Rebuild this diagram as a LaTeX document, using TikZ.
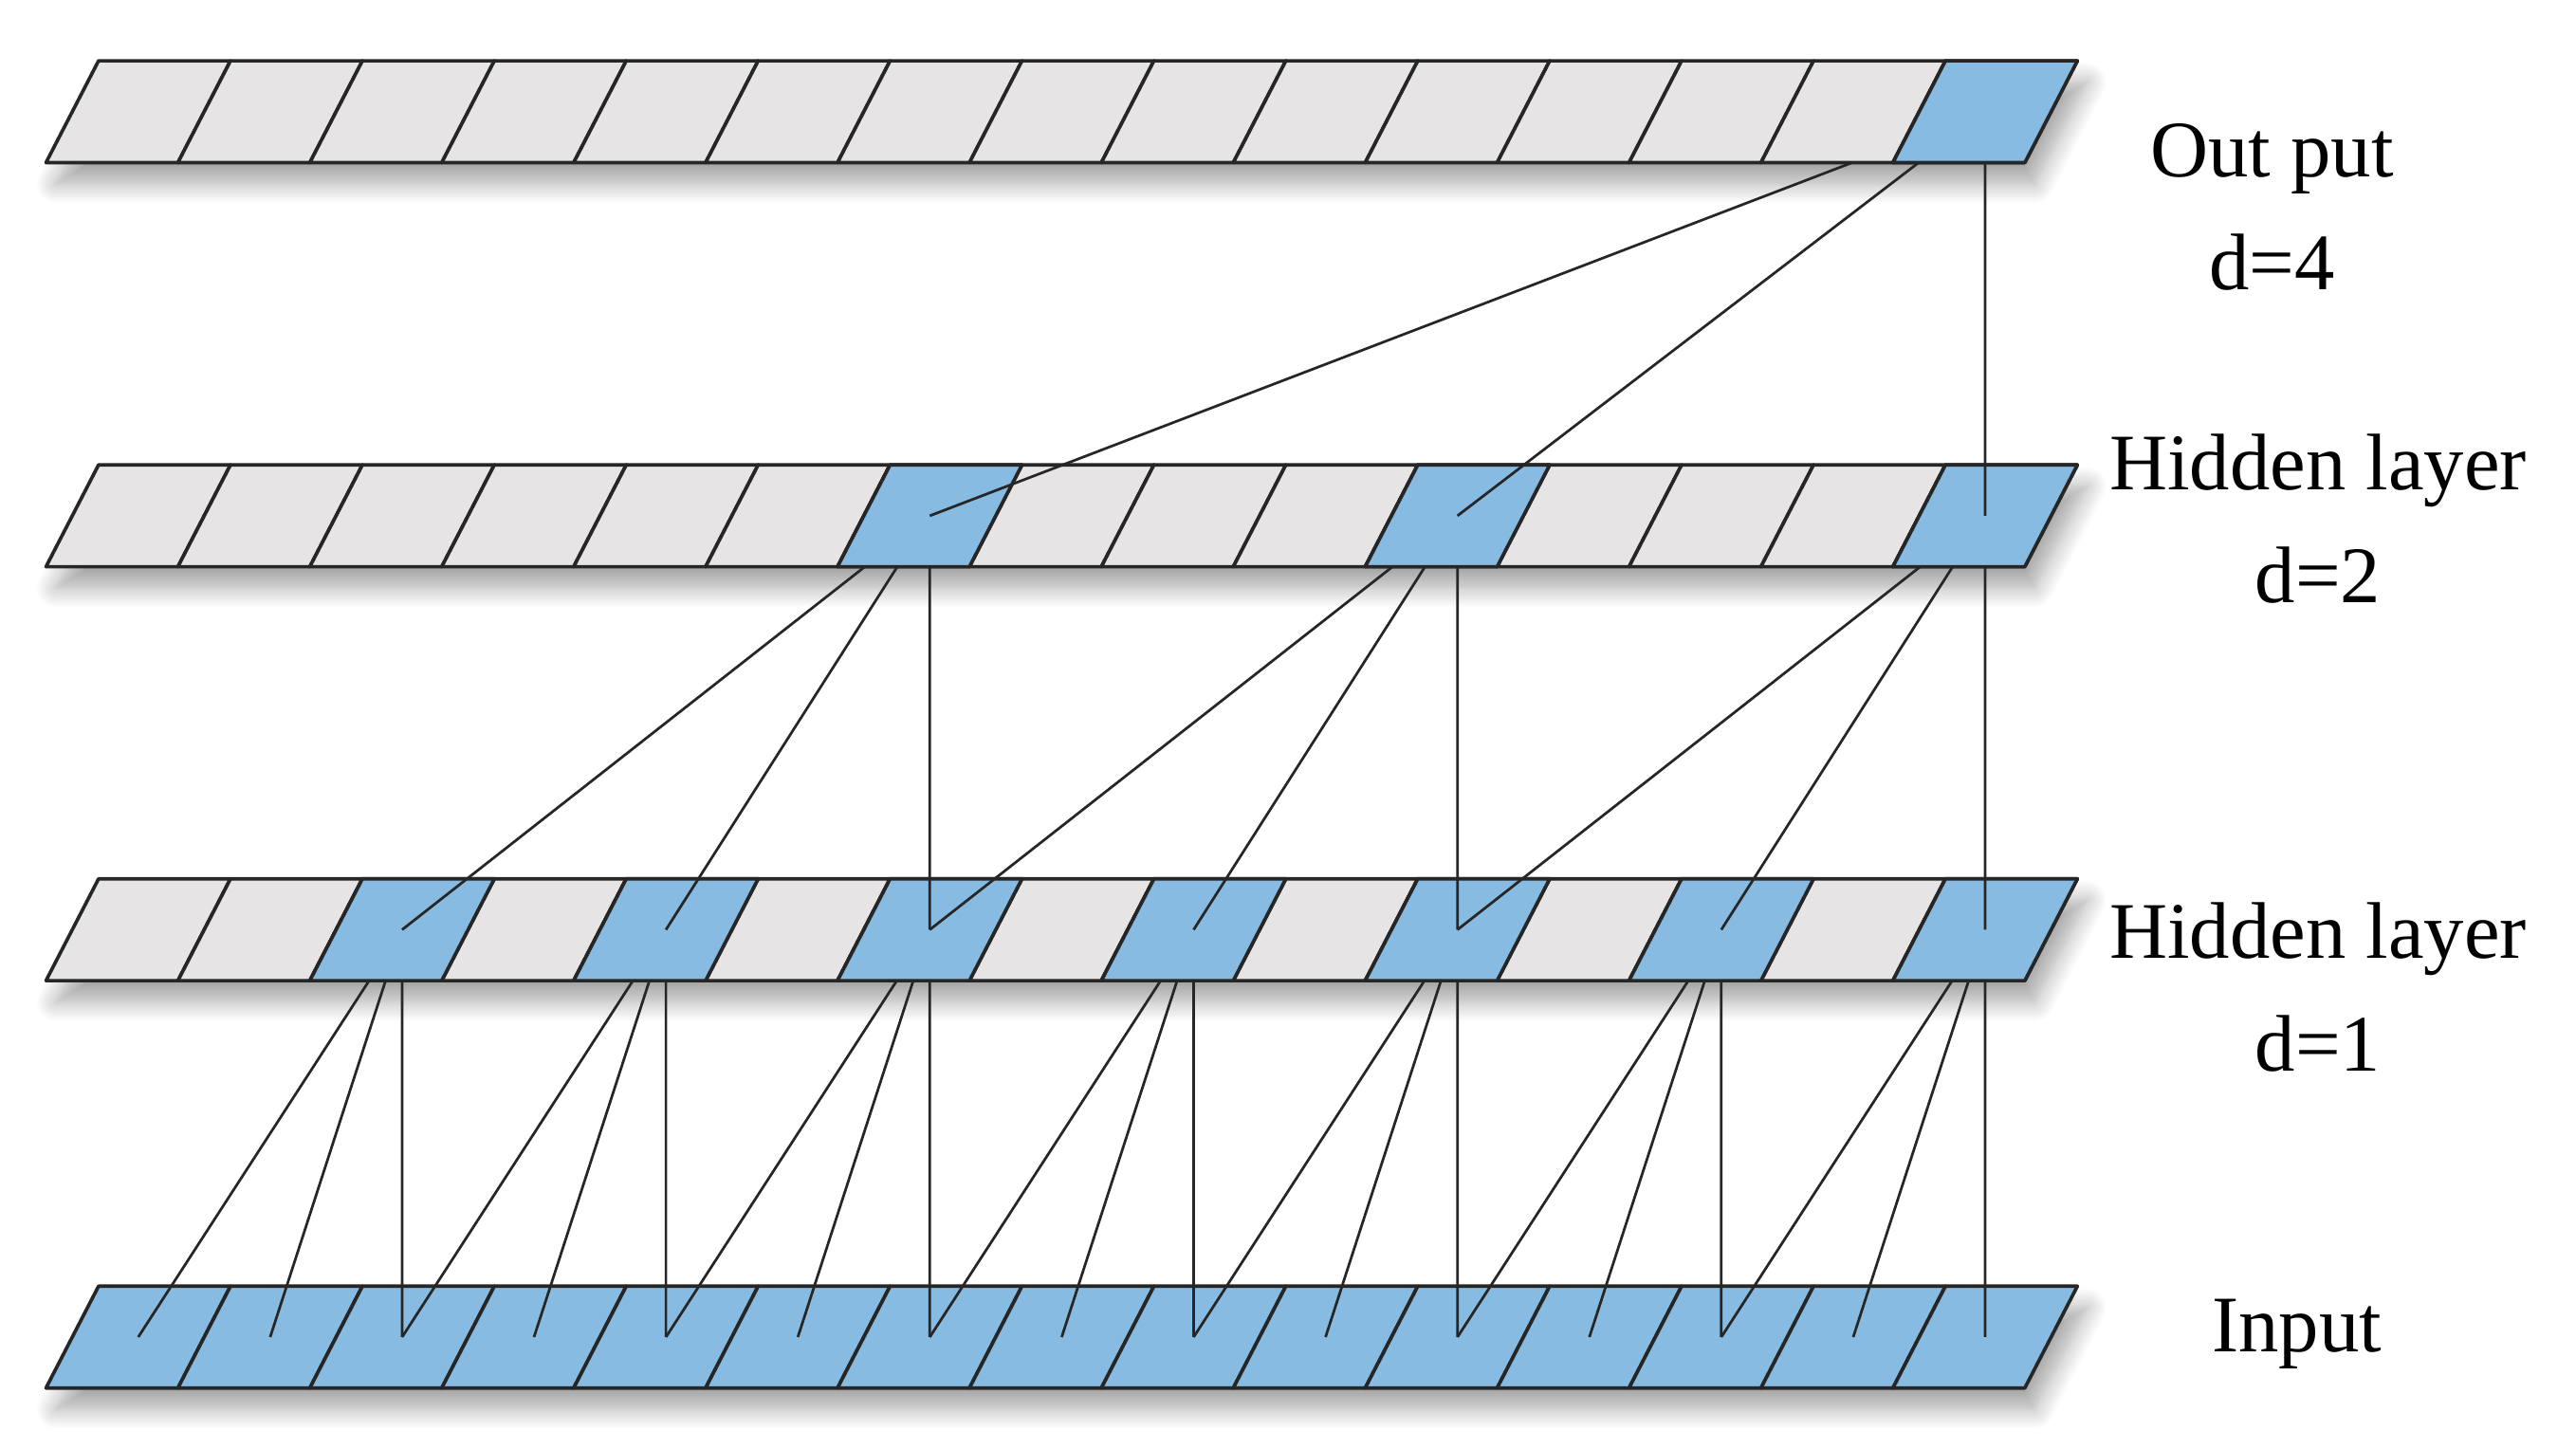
\documentclass[tikz,border=0pt]{standalone}
\usepackage{fontspec}
\setmainfont{Liberation Serif}
\usetikzlibrary{shadows.blur}
\definecolor{cellblue}{HTML}{88BBE1}
\definecolor{cellgray}{HTML}{E7E4E5}
\definecolor{edgegray}{HTML}{262626}

% one parallelogram cell: #1 = index, #2 = top y
\newcommand{\cellpath}[2]{({28+80.3*#1},#2+62) -- ({28+80.3*(#1+1)},#2+62) -- ({60+80.3*(#1+1)},#2) -- ({60+80.3*#1},#2) -- cycle}

\begin{document}
\begin{tikzpicture}[
  x=0.1mm, y=-0.1mm,
  every node/.style={font=\fontsize{13.9}{19.6}\selectfont, align=center},
  cellbox/.style={draw=edgegray, line width=0.6pt, line join=round},
  rowshade/.style={blur shadow={shadow xshift=0.6mm, shadow yshift=-1.3mm, shadow blur radius=1.2mm, shadow blur steps=10, shadow opacity=35}},
  link/.style={draw=edgegray, line width=0.45pt},
]
\useasboundingbox (0,0) rectangle (1568,882);

% cell centres
\foreach \r/\t in {out/37, hb/283, ha/535, in/783}
  \foreach \i in {0,...,14}
    \coordinate (\r-\i) at ({84.15+80.3*\i},\t+31);

% soft shadows under the rows
\foreach \t in {37, 283, 535, 783}
  \fill[white, rowshade] (28,\t+62) -- (1232.5,\t+62) -- (1264.5,\t) -- (60,\t) -- cycle;

% input row
\foreach \i in {0,...,14}
  \filldraw[cellbox, fill=cellblue] \cellpath{\i}{783};

% d=1 -> input
\foreach \k [evaluate=\k as \a using int(\k-2), evaluate=\k as \b using int(\k-1)] in {2,4,...,14}
  \draw[link] (ha-\k) -- (in-\a) (ha-\k) -- (in-\b) (ha-\k) -- (in-\k);

% hidden layer d=1
\foreach \i in {0,...,14}
  \filldraw[cellbox, fill=cellgray] \cellpath{\i}{535};
\foreach \i in {2,4,...,14}
  \filldraw[cellbox, fill=cellblue] \cellpath{\i}{535};

% d=2 -> d=1
\foreach \k [evaluate=\k as \a using int(\k-4), evaluate=\k as \b using int(\k-2)] in {6,10,14}
  \draw[link] (hb-\k) -- (ha-\a) (hb-\k) -- (ha-\b) (hb-\k) -- (ha-\k);

% hidden layer d=2
\foreach \i in {0,...,14}
  \filldraw[cellbox, fill=cellgray] \cellpath{\i}{283};
\foreach \i in {6,10,14}
  \filldraw[cellbox, fill=cellblue] \cellpath{\i}{283};

% d=4 -> d=2
\draw[link] (out-14) -- (hb-6) (out-14) -- (hb-10) (out-14) -- (hb-14);

% output row
\foreach \i in {0,...,14}
  \filldraw[cellbox, fill=cellgray] \cellpath{\i}{37};
\filldraw[cellbox, fill=cellblue] \cellpath{14}{37};

% labels
\node (lbl-out) at (1383,126) {Out put\\d=4};
\node (lbl-hb) at (1411,316) {Hidden layer\\d=2};
\node (lbl-ha) at (1411,601) {Hidden layer\\d=1};
\node (lbl-in) at (1398,812) {Input};
\end{tikzpicture}
\end{document}
